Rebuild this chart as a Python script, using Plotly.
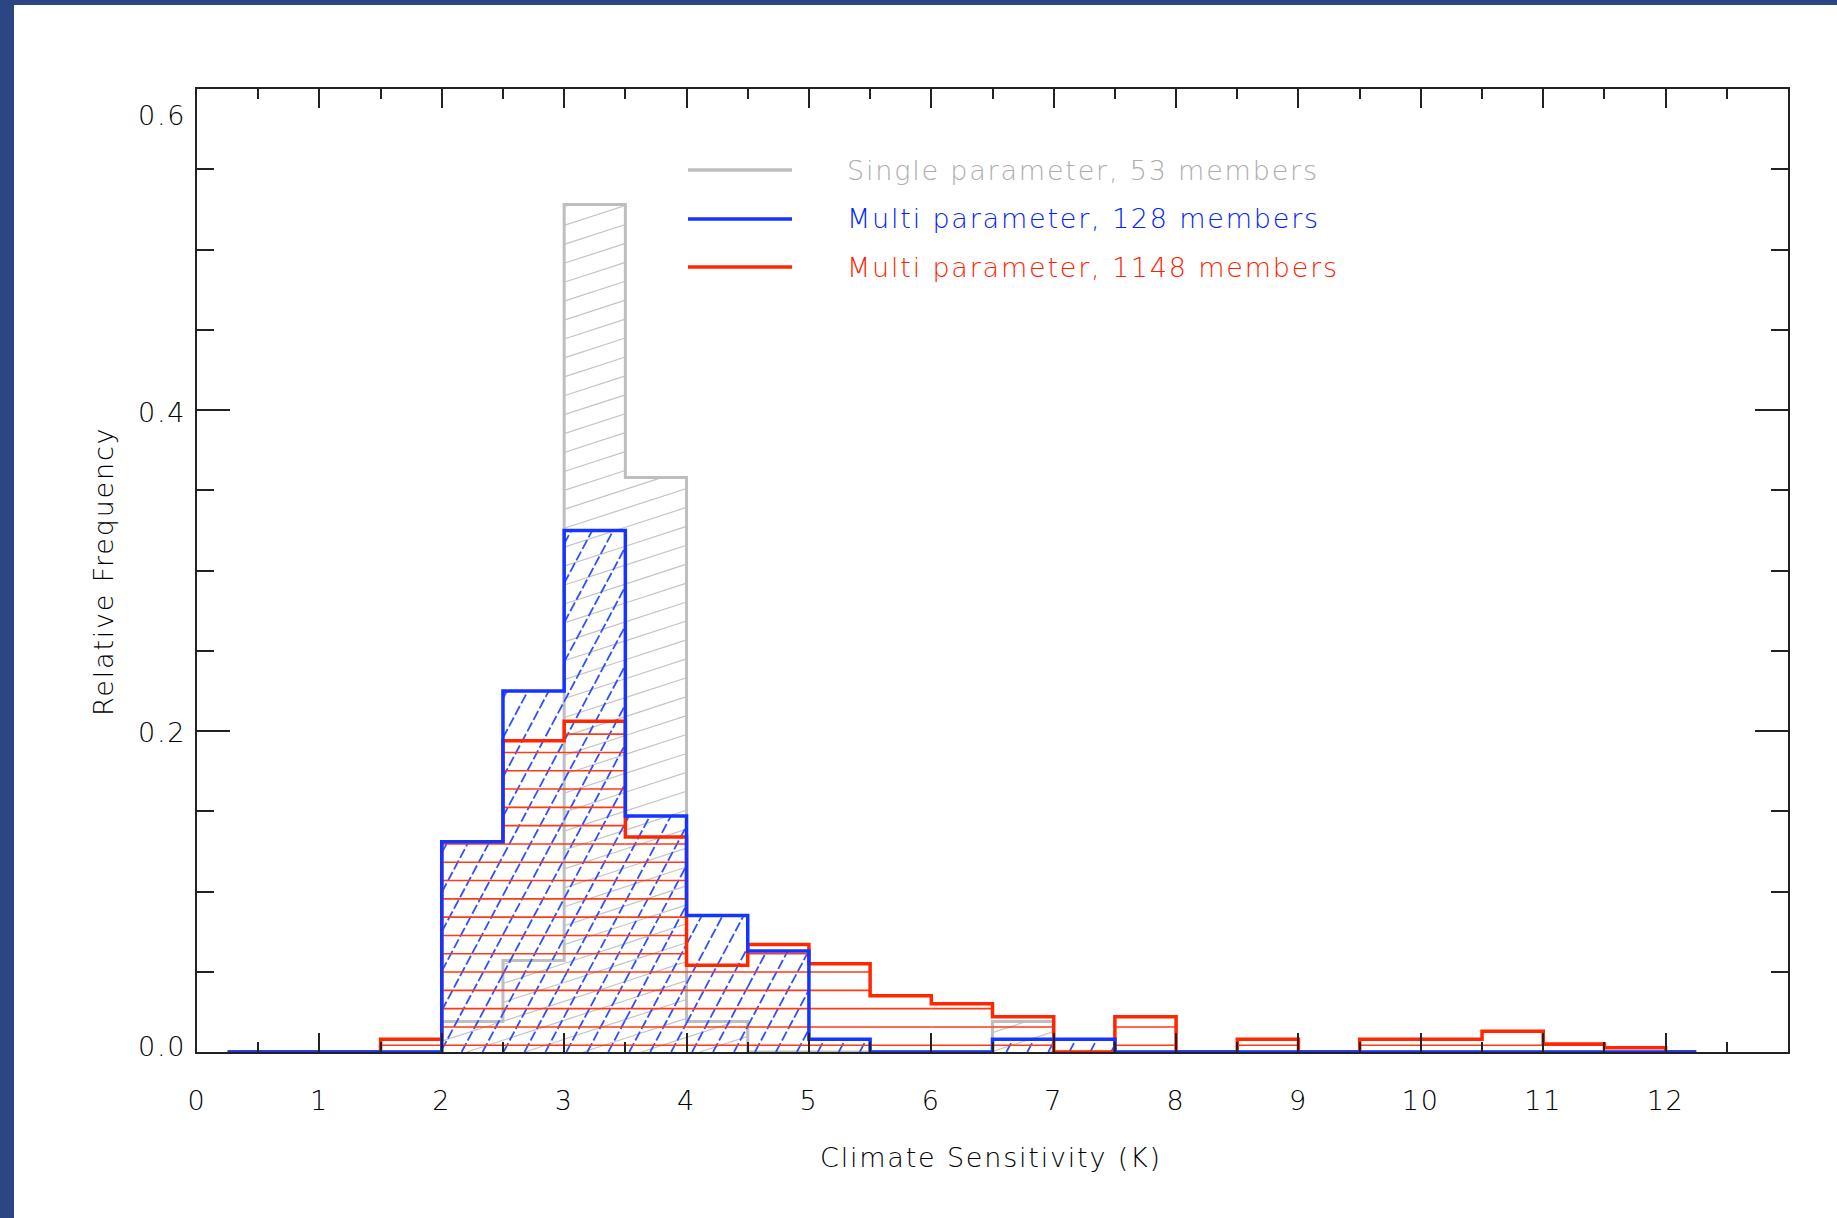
import math
import plotly.graph_objects as go

# ---------------- data ----------------
bin_centers = [0.25, 0.75, 1.25, 1.75, 2.25, 2.75, 3.25, 3.75, 4.25, 4.75, 5.25, 5.75,
               6.25, 6.75, 7.25, 7.75, 8.25, 8.75, 9.25, 9.75, 10.25, 10.75, 11.25, 11.75, 12.25]
bin_width = 0.5

single_53 = [0, 0, 0, 0, 0.019, 0.057, 0.528, 0.358, 0.019, 0, 0, 0,
             0, 0.019, 0, 0, 0, 0, 0, 0, 0, 0, 0, 0, 0]
multi_128 = [0, 0, 0, 0, 0.131, 0.225, 0.325, 0.147, 0.085, 0.063, 0.008, 0,
             0, 0.008, 0.008, 0, 0, 0, 0, 0, 0, 0, 0, 0, 0]
multi_1148 = [0, 0, 0, 0.008, 0.131, 0.194, 0.206, 0.134, 0.054, 0.067, 0.055, 0.035,
              0.030, 0.022, 0, 0.022, 0, 0.008, 0, 0.008, 0.008, 0.013, 0.005, 0.0026, 0]

legend_names = ["Single parameter, 53 members",
                "Multi parameter, 128 members",
                "Multi parameter, 1148 members"]

x_tick_vals = [0, 1, 2, 3, 4, 5, 6, 7, 8, 9, 10, 11, 12]
x_tick_text = ["0", "1", "2", "3", "4", "5", "6", "7", "8", "9", "10", "11", "12"]
y_tick_vals = [0.0, 0.2, 0.4, 0.6]
y_tick_text = ["0.0", "0.2", "0.4", "0.6"]

# ---------------- style / layout constants ----------------
W, H = 1837, 1218
ML, MR, MT, MB = 197, 49, 89, 166
PW, PH = W - ML - MR, H - MT - MB
X_RANGE = [0, 13]
Y_RANGE = [0, 0.6]

GRAY = "#BEBEBE"
BLUE = "#1434FF"
RED = "#FF2600"
NAVY = "#2B4682"
INK = "#000000"
FONT = "DejaVu Sans"
FS = 27
SPACING = "1.8px"
LEGEND_TEXT_COLORS = ["#ADADAD", "#0022FF", "#FF1E00"]

kx = PW / (X_RANGE[1] - X_RANGE[0])
ky = PH / (Y_RANGE[1] - Y_RANGE[0])


def px_x(X):
    return (X - ML) / PW


def px_y(Y):
    return (H - MB - Y) / PH


def sp(t):
    return f'<span style="letter-spacing:{SPACING}">{t}</span>'


def hatch(centers, values, width, angle_deg, spacing_px, phase=0.37):
    """Line-fill hatching of histogram bars, in data coordinates."""
    th = math.radians(angle_deg)
    dx, dy = math.cos(th), math.sin(th)
    nx, ny = -dy, dx
    xs, ys = [], []
    for c, v in zip(centers, values):
        if v <= 0:
            continue
        X0, X1 = (c - width / 2) * kx, (c + width / 2) * kx
        Y0, Y1 = 0.0, v * ky
        cs = [nx * X + ny * Y for X, Y in ((X0, Y0), (X0, Y1), (X1, Y0), (X1, Y1))]
        k0 = math.ceil(min(cs) / spacing_px) - 1
        k1 = math.floor(max(cs) / spacing_px) + 1
        for k in range(k0, k1 + 1):
            cc = (k + phase) * spacing_px
            bx, by = cc * nx, cc * ny
            tmin, tmax = -1e12, 1e12
            ok = True
            for p0, dd, lo, hi in ((bx, dx, X0, X1), (by, dy, Y0, Y1)):
                if abs(dd) < 1e-12:
                    if p0 < lo or p0 > hi:
                        ok = False
                else:
                    t1, t2 = (lo - p0) / dd, (hi - p0) / dd
                    tmin = max(tmin, min(t1, t2))
                    tmax = min(tmax, max(t1, t2))
            if ok and tmax > tmin:
                xs += [(bx + tmin * dx) / kx, (bx + tmax * dx) / kx, None]
                ys += [(by + tmin * dy) / ky, (by + tmax * dy) / ky, None]
    return xs, ys


fig = go.Figure()

# gray: hatch + outline
gx, gy = hatch(bin_centers, single_53, bin_width, 18, 18)
fig.add_trace(go.Scatter(x=gx, y=gy, mode="lines", line=dict(color="#C4C4C4", width=1.2),
                         hoverinfo="skip", showlegend=False))
fig.add_trace(go.Scatter(x=bin_centers, y=single_53, mode="lines", line_shape="hvh",
                         line=dict(color=GRAY, width=3), name=legend_names[0], showlegend=False))

# blue hatch
bx_, by_ = hatch(bin_centers, multi_128, bin_width, 62, 18.5)
fig.add_trace(go.Scatter(x=bx_, y=by_, mode="lines",
                         line=dict(color="#2E50FF", width=1.8, dash="10px,3px"),
                         hoverinfo="skip", showlegend=False))
# red hatch
rx, ry = hatch(bin_centers, multi_1148, bin_width, 0, 18.3)
fig.add_trace(go.Scatter(x=rx, y=ry, mode="lines", line=dict(color="#FF3A14", width=1.6),
                         hoverinfo="skip", showlegend=False))
# red outline
fig.add_trace(go.Scatter(x=bin_centers, y=multi_1148, mode="lines", line_shape="hvh",
                         line=dict(color=RED, width=3.5), name=legend_names[2], showlegend=False))
# blue outline
fig.add_trace(go.Scatter(x=bin_centers, y=multi_128, mode="lines", line_shape="hvh",
                         line=dict(color=BLUE, width=3.5), name=legend_names[1], showlegend=False))

axis_common = dict(showgrid=False, zeroline=False, showline=True, linecolor="#222222",
                   linewidth=2, mirror="allticks", ticks="inside", tickcolor="#222222",
                   tickwidth=2)

fig.update_xaxes(range=X_RANGE, tickmode="array", tickvals=x_tick_vals,
                 ticktext=[sp(t) for t in x_tick_text],
                 ticklen=19, ticklabelstandoff=24,
                 tickfont=dict(family=FONT, size=FS, color=INK, weight=200),
                 minor=dict(dtick=0.5, ticks="inside", ticklen=10, tickwidth=2, tickcolor="#222222"),
                 **axis_common)
fig.update_yaxes(range=Y_RANGE, tickmode="array", tickvals=y_tick_vals, showticklabels=False,
                 ticklen=33,
                 minor=dict(dtick=0.05, ticks="inside", ticklen=17, tickwidth=2, tickcolor="#222222"),
                 **axis_common)

annotations = []
y_label_shift = {0.0: 6, 0.2: -1, 0.4: -2, 0.6: -26}
for v, t in zip(y_tick_vals, y_tick_text):
    annotations.append(dict(x=px_x(188), xref="paper", y=v, yref="y", text=sp(t), showarrow=False,
                            xanchor="right", yanchor="middle", yshift=y_label_shift[v],
                            font=dict(family=FONT, size=FS, color=INK, weight=200)))
annotations.append(dict(x=px_x(991), xref="paper", y=px_y(1157), yref="paper",
                        text=sp("Climate Sensitivity (K)"), showarrow=False,
                        xanchor="center", yanchor="middle",
                        font=dict(family=FONT, size=FS, color=INK, weight=200)))
annotations.append(dict(x=px_x(103), xref="paper", y=px_y(572), yref="paper",
                        text=sp("Relative Frequency"), showarrow=False, textangle=-90,
                        xanchor="center", yanchor="middle",
                        font=dict(family=FONT, size=FS, color=INK, weight=200)))

shapes = []
legend_colors = [GRAY, BLUE, RED]
legend_rows = [170, 219, 267]
for name, col, tcol, yy in zip(legend_names, legend_colors, LEGEND_TEXT_COLORS, legend_rows):
    shapes.append(dict(type="line", xref="paper", yref="paper", x0=px_x(688), x1=px_x(792),
                       y0=px_y(yy), y1=px_y(yy), line=dict(color=col, width=3.5)))
    annotations.append(dict(x=px_x(845), xref="paper", y=px_y(yy), yref="paper", text=sp(name),
                            showarrow=False, xanchor="left", yanchor="middle",
                            font=dict(family=FONT, size=FS, color=tcol, weight=200)))

# frame bands (top and left)
shapes.append(dict(type="rect", xref="paper", yref="paper", x0=px_x(-5), x1=px_x(14),
                   y0=px_y(H + 5), y1=px_y(-5), fillcolor=NAVY, line=dict(width=0), layer="above"))
shapes.append(dict(type="rect", xref="paper", yref="paper", x0=px_x(-5), x1=px_x(W + 5),
                   y0=px_y(5), y1=px_y(-5), fillcolor=NAVY, line=dict(width=0), layer="above"))

fig.update_layout(width=W, height=H, margin=dict(l=ML, r=MR, t=MT, b=MB),
                  paper_bgcolor="white", plot_bgcolor="white", showlegend=False,
                  annotations=annotations, shapes=shapes,
                  font=dict(family=FONT, size=FS, color=INK, weight=200))

fig.write_html("out.html")
